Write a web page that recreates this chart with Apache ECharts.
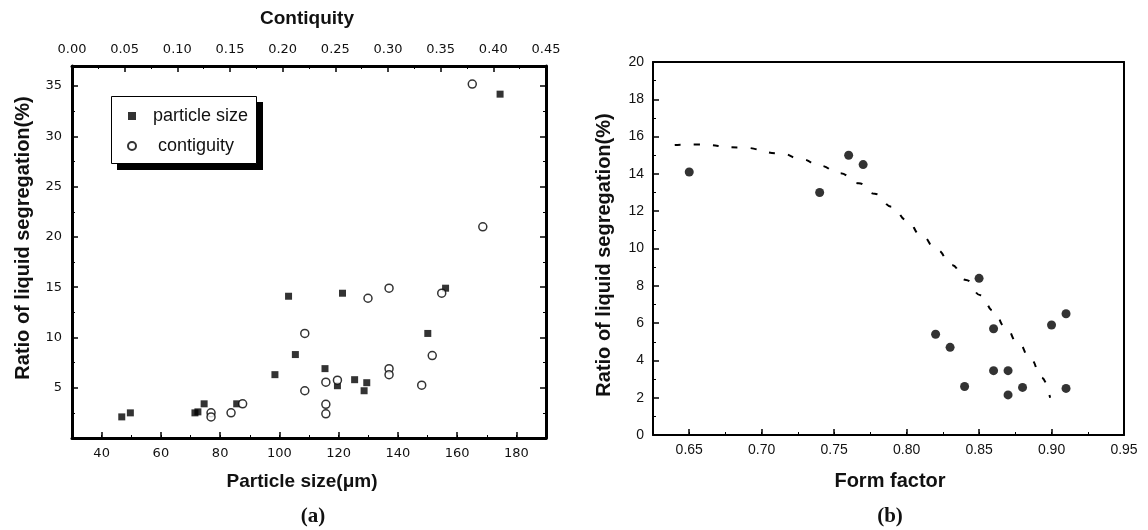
<!DOCTYPE html>
<html>
<head>
<meta charset="utf-8">
<script src="https://cdn.jsdelivr.net/npm/echarts@6/dist/echarts.min.js"></script>
<style>
html,body{margin:0;padding:0;background:#fff;}
#chart{width:1148px;height:530px;}
</style>
</head>
<body>
<div id="chart"></div>
<script>
// ---- Data (a): particle size (bottom axis) and contiguity (top axis) ----
const particleSizeX = [46.8, 49.7, 71.5, 72.5, 74.6, 85.6, 98.5, 103.1, 105.4, 115.4, 119.6, 121.3, 125.4, 128.6, 129.5, 150.1, 156.1, 174.5];
const particleSizeY = [2.1, 2.5, 2.5, 2.6, 3.4, 3.4, 6.3, 14.1, 8.3, 6.9, 5.2, 14.4, 5.8, 4.7, 5.5, 10.4, 14.9, 34.2];
const contiguityX = [0.132, 0.132, 0.151, 0.162, 0.221, 0.221, 0.241, 0.241, 0.241, 0.252, 0.281, 0.301, 0.301, 0.301, 0.332, 0.342, 0.351, 0.380, 0.390];
const contiguityY = [2.5, 2.1, 2.5, 3.4, 10.4, 4.7, 5.55, 3.35, 2.4, 5.75, 13.9, 14.9, 6.9, 6.3, 5.25, 8.2, 14.4, 35.2, 21.0];
// ---- Data (b): form factor ----
const formFactor = [0.65, 0.74, 0.76, 0.77, 0.82, 0.83, 0.84, 0.85, 0.86, 0.86, 0.87, 0.87, 0.88, 0.90, 0.91, 0.91];
const ratioB = [14.1, 13.0, 15.0, 14.5, 5.4, 4.7, 2.6, 8.4, 5.7, 3.45, 3.45, 2.15, 2.55, 5.9, 6.5, 2.5];
const fitX = [0.64, 0.655, 0.685, 0.713, 0.728, 0.74, 0.754, 0.767, 0.778, 0.79, 0.80, 0.81, 0.821, 0.831, 0.841, 0.851, 0.86, 0.868, 0.877, 0.886, 0.893, 0.899];
const fitY = [15.55, 15.58, 15.42, 15.1, 14.78, 14.44, 14.03, 13.5, 12.93, 12.24, 11.53, 10.72, 9.92, 9.12, 8.31, 7.5, 6.65, 5.8, 4.92, 4.02, 3.09, 2.0];
// ---- Tick labels ----
const particleTicks = [40, 60, 80, 100, 120, 140, 160, 180];
const formTicks = [0.65, 0.70, 0.75, 0.80, 0.85, 0.90, 0.95];
// ---- Titles ----
const titleTop = 'Contiquity';
const titleYA = 'Ratio of liquid segregation(%)';
const titleXA = 'Particle size(\u03bcm)';
const titleXB = 'Form factor';
const legendNames = ['particle size', 'contiguity'];

const zip = (xs, ys) => xs.map((x, i) => [x, ys[i]]);
const FONT = '"Liberation Sans", Arial, sans-serif';
const DJ = '"DejaVu Sans", sans-serif';
const lblA = { color: '#111', fontFamily: DJ, fontSize: 13 };
const lblB = { color: '#111', fontFamily: FONT, fontSize: 14 };
const blk = '#000';

const chart = echarts.init(document.getElementById('chart'), null, { renderer: 'canvas' });
const option = {
  backgroundColor: '#fff',
  animation: false,
  grid: [
    { left: 72, top: 66, width: 474, height: 372 },
    { left: 653, top: 62, width: 471, height: 373 }
  ],
  xAxis: [
    { // 0: particle size bottom (minor ticks + labels)
      gridIndex: 0, type: 'value', position: 'bottom', min: 30, max: 190, interval: 10,
      axisLine: { lineStyle: { color: blk, width: 3 } },
      axisTick: { inside: true, length: 3, lineStyle: { color: blk, width: 1 } },
      axisLabel: Object.assign({ margin: 9, formatter: v => (particleTicks.indexOf(Math.round(v)) >= 0 && Math.abs(v - Math.round(v)) < 1e-6) ? String(Math.round(v)) : '' }, lblA),
      splitLine: { show: false }
    },
    { // 1: particle size major ticks overlay
      gridIndex: 0, type: 'value', position: 'bottom', min: 30, max: 190, interval: 10,
      axisLine: { show: false },
      axisTick: { inside: true, length: 6, customValues: particleTicks, lineStyle: { color: blk, width: 1.5 } },
      axisLabel: { show: false },
      splitLine: { show: false }
    },
    { // 2: contiguity top
      gridIndex: 0, type: 'value', position: 'top', min: 0, max: 0.45, interval: 0.05,
      axisLine: { lineStyle: { color: blk, width: 3 } },
      axisTick: { inside: true, length: 6, lineStyle: { color: blk, width: 1.5 } },
      minorTick: { show: true, splitNumber: 2, length: 3, lineStyle: { color: blk, width: 1 } },
      axisLabel: Object.assign({ margin: 10, formatter: v => v.toFixed(2) }, lblA),
      splitLine: { show: false }
    },
    { // 3: form factor bottom (minor + labels)
      gridIndex: 1, type: 'value', position: 'bottom', min: 0.625, max: 0.95, interval: 0.025,
      axisLine: { lineStyle: { color: blk, width: 2 } },
      axisTick: { inside: true, length: 3, lineStyle: { color: blk, width: 1 } },
      axisLabel: Object.assign({ margin: 8, formatter: v => (Math.abs(v * 20 - Math.round(v * 20)) < 1e-6) ? v.toFixed(2) : '' }, lblB),
      splitLine: { show: false }
    },
    { // 4: form factor major ticks overlay
      gridIndex: 1, type: 'value', position: 'bottom', min: 0.625, max: 0.95, interval: 0.025,
      axisLine: { show: false },
      axisTick: { inside: true, length: 6, customValues: formTicks, lineStyle: { color: blk, width: 1.5 } },
      axisLabel: { show: false },
      splitLine: { show: false }
    },
    { // 5: top frame of (b)
      gridIndex: 1, type: 'value', position: 'top', min: 0.625, max: 0.95, interval: 0.025,
      axisLine: { lineStyle: { color: blk, width: 2 } },
      axisTick: { show: false }, axisLabel: { show: false }, splitLine: { show: false }
    }
  ],
  yAxis: [
    { // 0: left of (a)
      gridIndex: 0, type: 'value', position: 'left', min: 0, max: 37, interval: 5,
      axisLine: { lineStyle: { color: blk, width: 3 } },
      axisTick: { inside: true, length: 6, lineStyle: { color: blk, width: 1.5 } },
      minorTick: { show: true, splitNumber: 2, length: 3, lineStyle: { color: blk, width: 1 } },
      axisLabel: Object.assign({ margin: 10, formatter: v => (v > 0 && v % 5 === 0) ? String(v) : '' }, lblA),
      splitLine: { show: false }
    },
    { // 1: right of (a)
      gridIndex: 0, type: 'value', position: 'right', min: 0, max: 37, interval: 5,
      axisLine: { lineStyle: { color: blk, width: 3 } },
      axisTick: { inside: true, length: 6, lineStyle: { color: blk, width: 1.5 } },
      minorTick: { show: true, splitNumber: 2, length: 3, lineStyle: { color: blk, width: 1 } },
      axisLabel: { show: false },
      splitLine: { show: false }
    },
    { // 2: left of (b)
      gridIndex: 1, type: 'value', position: 'left', min: 0, max: 20, interval: 2,
      axisLine: { lineStyle: { color: blk, width: 2 } },
      axisTick: { inside: true, length: 6, lineStyle: { color: blk, width: 1.5 } },
      minorTick: { show: true, splitNumber: 2, length: 3, lineStyle: { color: blk, width: 1 } },
      axisLabel: Object.assign({ margin: 9 }, lblB),
      splitLine: { show: false }
    },
    { // 3: right frame of (b)
      gridIndex: 1, type: 'value', position: 'right', min: 0, max: 20, interval: 2,
      axisLine: { lineStyle: { color: blk, width: 2 } },
      axisTick: { show: false }, axisLabel: { show: false }, splitLine: { show: false }
    }
  ],
  legend: {
    data: [{ name: legendNames[0], icon: 'rect' }, { name: legendNames[1], icon: 'circle' }],
    orient: 'vertical',
    left: 111, top: 96,
    padding: [10, 10, 7, 16],
    itemGap: 10,
    itemWidth: 8, itemHeight: 8,
    z: 10,
    textStyle: { color: '#111', fontFamily: FONT, fontSize: 18, lineHeight: 20, padding: [0, 0, 0, 12] },
    formatter: n => n === 'contiguity' ? ' ' + n : n
  },
  series: [
    {
      name: legendNames[0], type: 'scatter', xAxisIndex: 0, yAxisIndex: 0,
      symbol: 'rect', symbolSize: 7,
      itemStyle: { color: '#000' },
      data: zip(particleSizeX, particleSizeY)
    },
    {
      name: legendNames[1], type: 'scatter', xAxisIndex: 2, yAxisIndex: 0,
      symbol: 'circle', symbolSize: 8,
      itemStyle: { color: '#fff', borderColor: '#000', borderWidth: 1.5 },
      data: zip(contiguityX, contiguityY)
    },
    {
      name: 'form factor', type: 'scatter', xAxisIndex: 3, yAxisIndex: 2,
      symbol: 'circle', symbolSize: 9,
      itemStyle: { color: '#000' },
      data: zip(formFactor, ratioB)
    },
    {
      name: 'fit', type: 'line', xAxisIndex: 3, yAxisIndex: 2,
      showSymbol: false, symbol: 'none', smooth: true, smoothMonotone: 'x',
      lineStyle: { color: '#000', width: 2, type: [6, 13] },
      data: zip(fitX, fitY)
    }
  ],
  graphic: [
    { type: 'rect', z: 1, shape: { x: 117, y: 102, width: 146, height: 68 }, style: { fill: '#000' } },
    { type: 'rect', z: 2, shape: { x: 111.5, y: 96.5, width: 145, height: 67 }, style: { fill: '#fff', stroke: '#000', lineWidth: 1 } },
    { type: 'text', x: 307, y: 19, style: { text: titleTop, font: 'bold 19px ' + FONT, fill: '#111', align: 'center', verticalAlign: 'middle' } },
    { type: 'text', x: 23, y: 238, rotation: Math.PI / 2, style: { text: titleYA, font: 'bold 20px ' + FONT, fill: '#111', align: 'center', verticalAlign: 'middle' } },
    { type: 'text', x: 302, y: 482, style: { text: titleXA, font: 'bold 19px ' + FONT, fill: '#111', align: 'center', verticalAlign: 'middle' } },
    { type: 'text', x: 313, y: 517, style: { text: '(a)', font: 'bold 21px "Liberation Serif", serif', fill: '#111', align: 'center', verticalAlign: 'middle' } },
    { type: 'text', x: 604, y: 255, rotation: Math.PI / 2, style: { text: titleYA, font: 'bold 20px ' + FONT, fill: '#111', align: 'center', verticalAlign: 'middle' } },
    { type: 'text', x: 890, y: 481, style: { text: titleXB, font: 'bold 20px ' + FONT, fill: '#111', align: 'center', verticalAlign: 'middle' } },
    { type: 'text', x: 890, y: 517, style: { text: '(b)', font: 'bold 21px "Liberation Serif", serif', fill: '#111', align: 'center', verticalAlign: 'middle' } }
  ]
};
chart.setOption(option);
</script>
</body>
</html>
